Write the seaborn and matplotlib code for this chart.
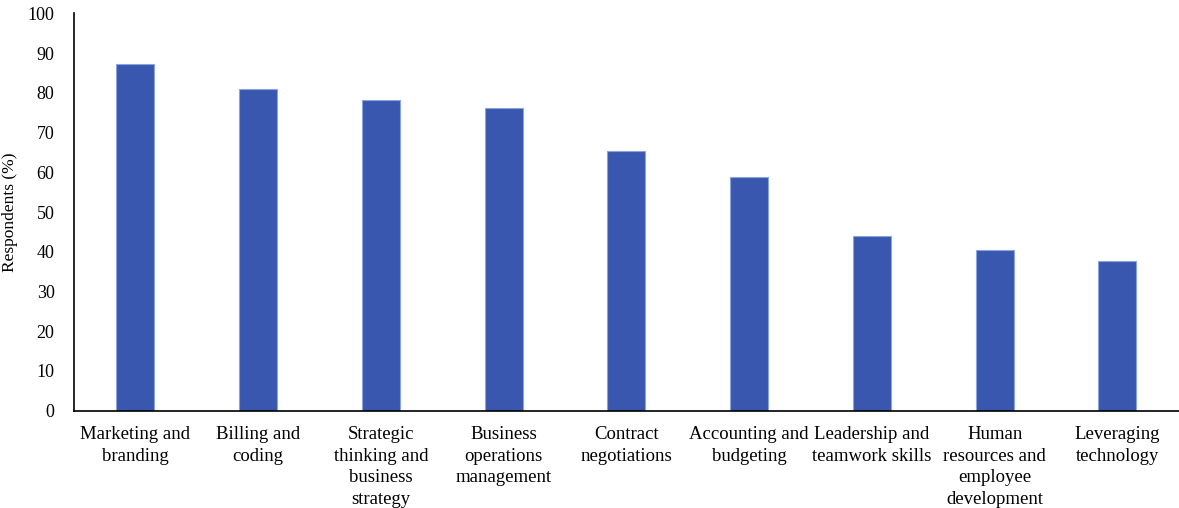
import matplotlib
matplotlib.use("Agg")
import matplotlib.pyplot as plt
import seaborn as sns

# Survey categories and share of respondents (%)
categories = [
    "Marketing and\nbranding",
    "Billing and\ncoding",
    "Strategic\nthinking and\nbusiness\nstrategy",
    "Business\noperations\nmanagement",
    "Contract\nnegotiations",
    "Accounting and\nbudgeting",
    "Leadership and\nteamwork skills",
    "Human\nresources and\nemployee\ndevelopment",
    "Leveraging\ntechnology",
]
respondents = [87.2, 81.0, 78.3, 76.2, 65.4, 58.8, 44.0, 40.4, 37.7]
y_ticks = list(range(0, 101, 10))

sns.set_theme(style="white")
plt.rcParams['font.family'] = ['Liberation Serif', 'DejaVu Serif']

fig = plt.figure(figsize=(11.79, 5.08), dpi=100)
ax = fig.add_axes([0.0628, 0.1915, 0.937, 0.782])

sns.barplot(x=categories, y=respondents, color="#3A57AF", width=0.31,
            edgecolor="#8AA4DE", linewidth=0.8, saturation=1, ax=ax)

ax.set_ylim(0, 100)
ax.set_yticks(y_ticks)
ax.set_xlim(-0.5, len(categories) - 0.5)
ax.tick_params(axis='y', labelsize=13, length=0, pad=14, colors='black')
ax.tick_params(axis='x', labelsize=13.5, length=0, pad=11, colors='black')
for lbl in ax.get_xticklabels():
    lbl.set_linespacing(1.35)
ax.set_ylabel("Respondents (%)", fontsize=12.5, color='black', labelpad=7)
ax.set_xlabel("")

sns.despine(ax=ax, top=True, right=True)
ax.spines['left'].set_color('black')
ax.spines['bottom'].set_color('black')
ax.spines['left'].set_linewidth(1.2)
ax.spines['bottom'].set_linewidth(1.2)

fig.savefig("out.png", dpi=100)
